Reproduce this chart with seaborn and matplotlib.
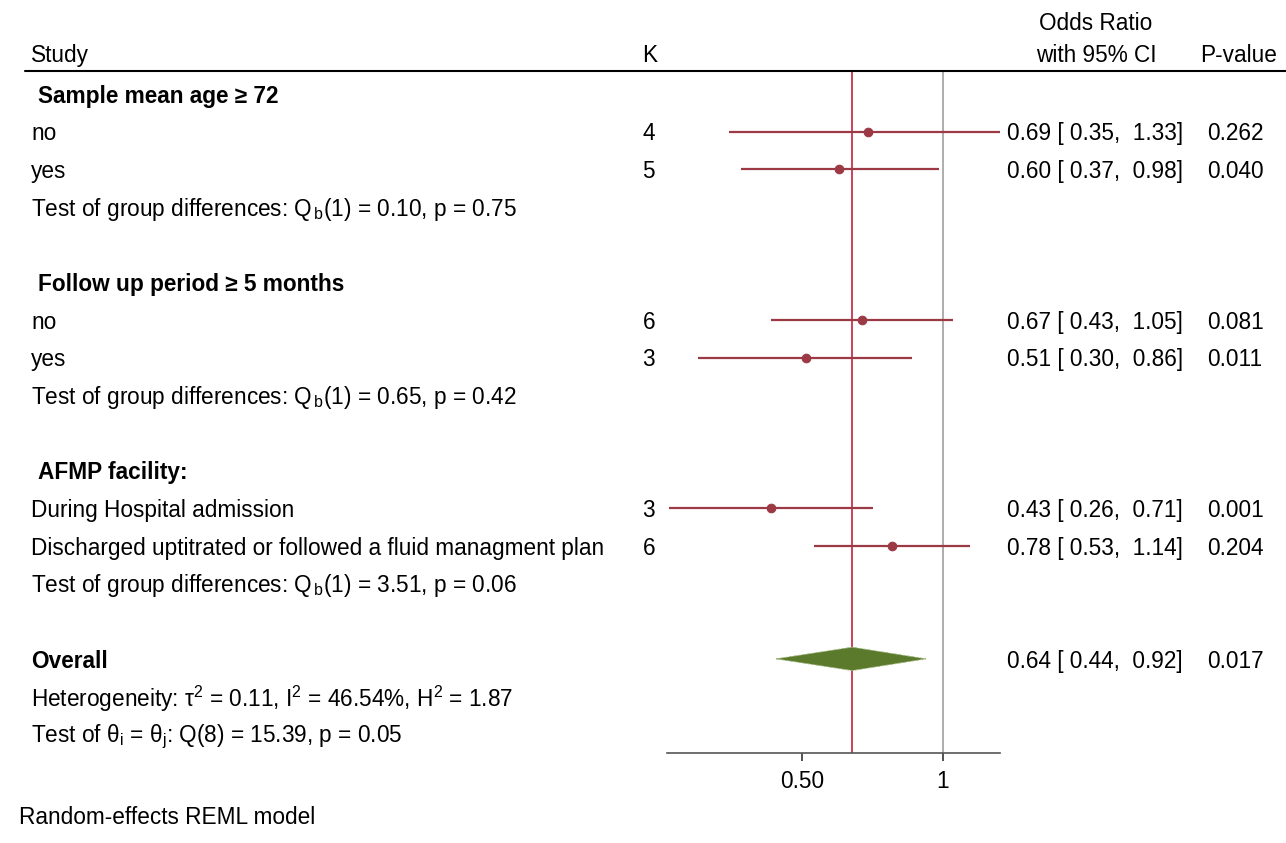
"""Subgroup forest plot (random-effects REML)"""

import matplotlib
matplotlib.use("Agg")
import matplotlib.pyplot as plt
import matplotlib.transforms as mtransforms
from matplotlib.patches import Polygon
import numpy as np
import pandas as pd
import seaborn as sns

# ---- data -------------------------------------------------------------
groups = ["Sample mean age \u2265 72", "Follow up period \u2265 5 months", "AFMP facility:"]
sub_labels = [
    ["no", "yes"],
    ["no", "yes"],
    ["During Hospital admission", "Discharged uptitrated or followed a fluid managment plan"],
]
k_values = [[4, 5], [6, 3], [3, 6]]
or_est = [[0.69, 0.60], [0.67, 0.51], [0.43, 0.78]]
ci_low = [[0.35, 0.37], [0.43, 0.30], [0.26, 0.53]]
ci_high = [[1.33, 0.98], [1.05, 0.86], [0.71, 1.14]]
p_values = ["0.262", "0.040", "0.081", "0.011", "0.001", "0.204"]
group_tests = [
    r"Test of group differences: Q$_{\,\mathrm{b}}$(1) = 0.10, p = 0.75",
    r"Test of group differences: Q$_{\,\mathrm{b}}$(1) = 0.65, p = 0.42",
    r"Test of group differences: Q$_{\,\mathrm{b}}$(1) = 3.51, p = 0.06",
]
overall_or, overall_lo, overall_hi, overall_p = 0.64, 0.44, 0.92, "0.017"
heterogeneity = r"Heterogeneity: $\mathrm{\tau}^{2}$ = 0.11, I$^{2}$ = 46.54%, H$^{2}$ = 1.87"
homogeneity = r"Test of $\mathrm{\theta}_{\mathrm{i}}$ = $\mathrm{\theta}_{\mathrm{j}}$: Q(8) = 15.39, p = 0.05"
xticks = [0.5, 1]
xticklabels = ["0.50", "1"]

# ---- style ------------------------------------------------------------
sns.set_style("white")
plt.rcParams["font.family"] = ["Liberation Sans", "DejaVu Sans"]
plt.rcParams["mathtext.fontset"] = "custom"
plt.rcParams["mathtext.rm"] = "Liberation Sans"
plt.rcParams["mathtext.it"] = "Liberation Sans:italic"
plt.rcParams["mathtext.default"] = "rm"
plt.rcParams["text.color"] = "black"
plt.rcParams["xtick.color"] = "black"
FS = 16.3
CI_COLOR = "#9b3a45"
REF_COLOR = "#c8324b"

fig = plt.figure(figsize=(12.86, 8.43), dpi=100)
ax = fig.add_axes([667 / 1286, 1 - 753 / 843, 333 / 1286, (753 - 71) / 843])
ax.set_xscale("log")
ax.set_xlim(0.2575, 1.323)
ax.set_ylim(17.5, -0.61)

# build study rows
rows = []
y = 0
for g in range(len(groups)):
    rows.append(dict(kind="group", y=y, text=groups[g]))
    y += 1
    for j in range(len(sub_labels[g])):
        rows.append(dict(kind="study", y=y, text=sub_labels[g][j], k=k_values[g][j],
                         est=or_est[g][j], lo=ci_low[g][j], hi=ci_high[g][j]))
        y += 1
    rows.append(dict(kind="test", y=y, text=group_tests[g]))
    y += 2
studies = pd.DataFrame([r for r in rows if r["kind"] == "study"])
studies["p"] = p_values
y_overall = y

# reference lines
ax.axvline(1, color="#a0a0a0", lw=1.2, zorder=1)
ax.axvline(overall_or, color=REF_COLOR, lw=1.3, zorder=1)

# CIs and point estimates
ax.hlines(studies["y"], studies["lo"], studies["hi"], color=CI_COLOR, lw=1.6, zorder=2)
sns.scatterplot(data=studies, x="est", y="y", color=CI_COLOR, s=38,
                edgecolor=CI_COLOR, linewidth=0.8, ax=ax, zorder=3, legend=False)

# overall diamond
dh = 0.31
ax.add_patch(Polygon([(overall_lo, y_overall), (overall_or, y_overall - dh),
                      (overall_hi, y_overall), (overall_or, y_overall + dh)],
                     closed=True, facecolor="#5b7a2b", edgecolor="#9bb27a",
                     lw=0.6, linestyle="--", zorder=3))

# axes styling
for side in ["top", "left", "right"]:
    ax.spines[side].set_visible(False)
ax.spines["bottom"].set_color("#555555")
ax.spines["bottom"].set_linewidth(1.2)
ax.set_yticks([])
ax.set_xticks(xticks)
ax.set_xticklabels(xticklabels, fontsize=FS)
ax.xaxis.set_minor_locator(matplotlib.ticker.NullLocator())
ax.tick_params(axis="x", direction="out", length=6, width=1.2, color="#333333", pad=6, bottom=True)
ax.set_xlabel("")
ax.set_ylabel("")

# text columns
tr = mtransforms.blended_transform_factory(fig.transFigure, ax.transData)


def px(x):
    return x / 1286


def put(x, yy, s, **kw):
    kw.setdefault("fontsize", FS)
    kw.setdefault("va", "center")
    ax.text(px(x), yy + 0.06, s, transform=tr, clip_on=False, **kw)


# header
put(31, -1.09, "Study")
put(657, -1.09, "K", ha="right")
put(1096, -1.94, "Odds Ratio", ha="center")
put(1096, -1.09, "with 95% CI", ha="center")
put(1200, -1.09, "P-value")
ax.plot([px(25), px(1286)], [-0.61, -0.61], transform=tr, color="black", lw=1.5, clip_on=False)

for r in rows:
    if r["kind"] == "group":
        put(38, r["y"], r["text"], fontweight="bold")
    elif r["kind"] == "test":
        put(31, r["y"], r["text"])
for _, r in studies.iterrows():
    put(31, r["y"], r["text"])
    put(655, r["y"], str(r["k"]), ha="right")
    put(1007, r["y"], f"{r['est']:.2f} [ {r['lo']:.2f},  {r['hi']:.2f}]")
    put(1207, r["y"], r["p"])

put(31, y_overall, "Overall", fontweight="bold")
put(1007, y_overall, f"{overall_or:.2f} [ {overall_lo:.2f},  {overall_hi:.2f}]")
put(1207, y_overall, overall_p)
put(31, y_overall + 1, heterogeneity)
put(31, y_overall + 2, homogeneity)
put(19, 19.15, "Random-effects REML model")

fig.savefig("out.png", dpi=100)
plt.close(fig)
